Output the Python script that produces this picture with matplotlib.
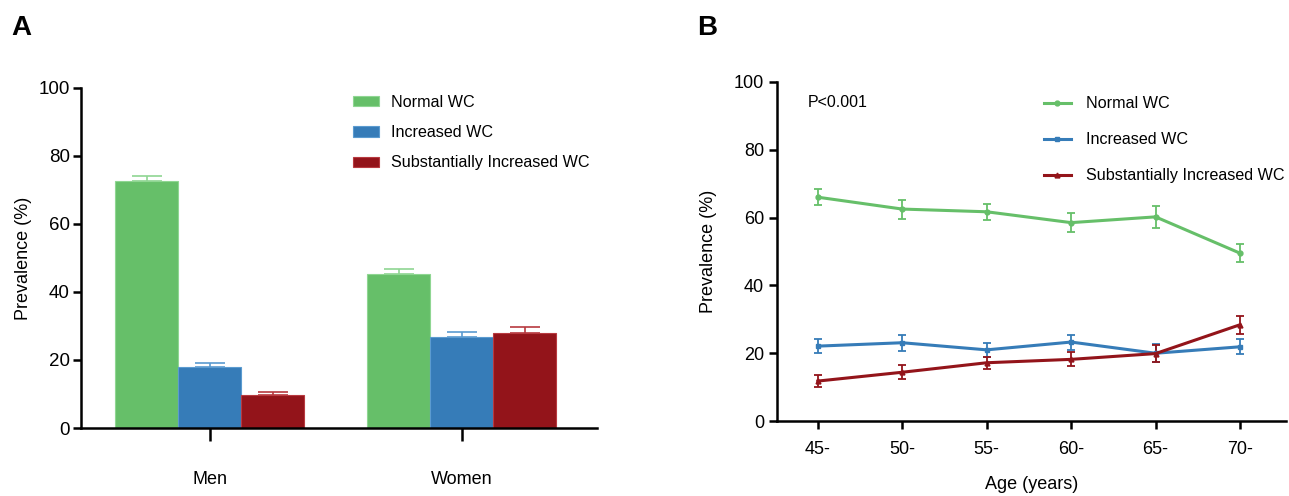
import numpy as np
import matplotlib
matplotlib.use("Agg")
import matplotlib.pyplot as plt
from matplotlib.lines import Line2D

plt.rcParams['font.family'] = ['Liberation Sans', 'DejaVu Sans']

# Panel A data: prevalence by sex
sexes = ["Men", "Women"]
series = ["Normal WC", "Increased WC", "Substantially Increased WC"]
bar_vals = {
    "Normal WC": [72.6, 45.3],
    "Increased WC": [17.9, 26.8],
    "Substantially Increased WC": [9.7, 27.9],
}
bar_err = {
    "Normal WC": [1.5, 1.5],
    "Increased WC": [1.2, 1.4],
    "Substantially Increased WC": [0.9, 1.7],
}

# Panel B data: prevalence by age group
ages = ["45-", "50-", "55-", "60-", "65-", "70-"]
normal = [66.0, 62.5, 61.7, 58.5, 60.2, 49.5]
normal_err = [2.4, 2.8, 2.3, 2.7, 3.2, 2.7]
increased = [22.1, 23.1, 21.0, 23.3, 20.0, 21.9]
increased_err = [2.1, 2.3, 2.0, 2.2, 2.6, 2.2]
subst = [11.8, 14.4, 17.2, 18.2, 19.9, 28.4]
subst_err = [1.7, 2.0, 1.7, 2.1, 2.5, 2.7]

colors = ["#66bf69", "#367cb8", "#93141a"]
edges = ["#8fd692", "#5b9bd0", "#b83a40"]

fig = plt.figure(figsize=(12.89, 4.96), dpi=100)

# ---- Panel A ----
axA = fig.add_axes([0.0628, 0.137, 0.400, 0.686])
x = np.arange(len(sexes))
w = 0.25
for i, s in enumerate(series):
    axA.bar(x + (i - 1) * w, bar_vals[s], w, color=colors[i], edgecolor=edges[i],
            linewidth=0.8, label=s, zorder=2)
    axA.errorbar(x + (i - 1) * w, bar_vals[s], yerr=[np.zeros(2), bar_err[s]],
                 fmt="none", ecolor=edges[i], elinewidth=1.2, capsize=11, capthick=1.2, zorder=1)
axA.set_xlim(-0.512, 1.536)
axA.set_ylim(0, 100)
axA.set_yticks(range(0, 101, 20))
axA.set_xticks(x)
axA.set_xticklabels(sexes)
axA.tick_params(axis="x", length=9, width=1.8, pad=22, labelsize=13)
axA.tick_params(axis="y", length=6, width=1.8, labelsize=13.5, pad=2)
for sp in ["top", "right"]:
    axA.spines[sp].set_visible(False)
for sp in ["left", "bottom"]:
    axA.spines[sp].set_linewidth(1.8)
axA.set_ylabel("Prevalence (%)", fontsize=13, labelpad=5)
axA.legend(loc="upper left", bbox_to_anchor=(0.50, 1.022), frameon=False, fontsize=11.6,
           handlelength=1.6, handleheight=0.6, handletextpad=0.75, labelspacing=0.95)
fig.text(0.009, 0.93, "A", fontsize=20, fontweight="bold")

# ---- Panel B ----
axB = fig.add_axes([0.603, 0.151, 0.395, 0.684])
xb = np.arange(len(ages))
handles = []
for vals, err, c, m, lab in [(normal, normal_err, colors[0], "o", series[0]),
                             (increased, increased_err, colors[1], "s", series[1]),
                             (subst, subst_err, colors[2], "^", series[2])]:
    axB.errorbar(xb, vals, yerr=err, color=c, marker=m, markersize=3.5, linewidth=2.2,
                 elinewidth=1.3, capsize=3, capthick=1.3)
    handles.append(Line2D([], [], color=c, marker=m, markersize=3.5, linewidth=2.2, label=lab))
axB.set_xlim(-0.48, 5.55)
axB.set_ylim(0, 100)
axB.set_yticks(range(0, 101, 20))
axB.set_xticks(xb)
axB.set_xticklabels(ages)
axB.tick_params(axis="both", length=6, width=1.8, labelsize=13)
axB.tick_params(axis="x", pad=8)
for sp in ["top", "right"]:
    axB.spines[sp].set_visible(False)
for sp in ["left", "bottom"]:
    axB.spines[sp].set_linewidth(1.8)
axB.set_ylabel("Prevalence (%)", fontsize=13, labelpad=12)
axB.set_xlabel("Age (years)", fontsize=13, labelpad=13)
axB.text(0.06, 0.94, "P<0.001", transform=axB.transAxes, fontsize=11.5, va="center")
axB.legend(handles=handles, loc="upper left", bbox_to_anchor=(0.495, 1.0), frameon=False,
           fontsize=11.6, handlelength=1.7, handletextpad=0.9, labelspacing=1.3)
fig.text(0.541, 0.93, "B", fontsize=20, fontweight="bold")

fig.savefig("out.png", dpi=100)
